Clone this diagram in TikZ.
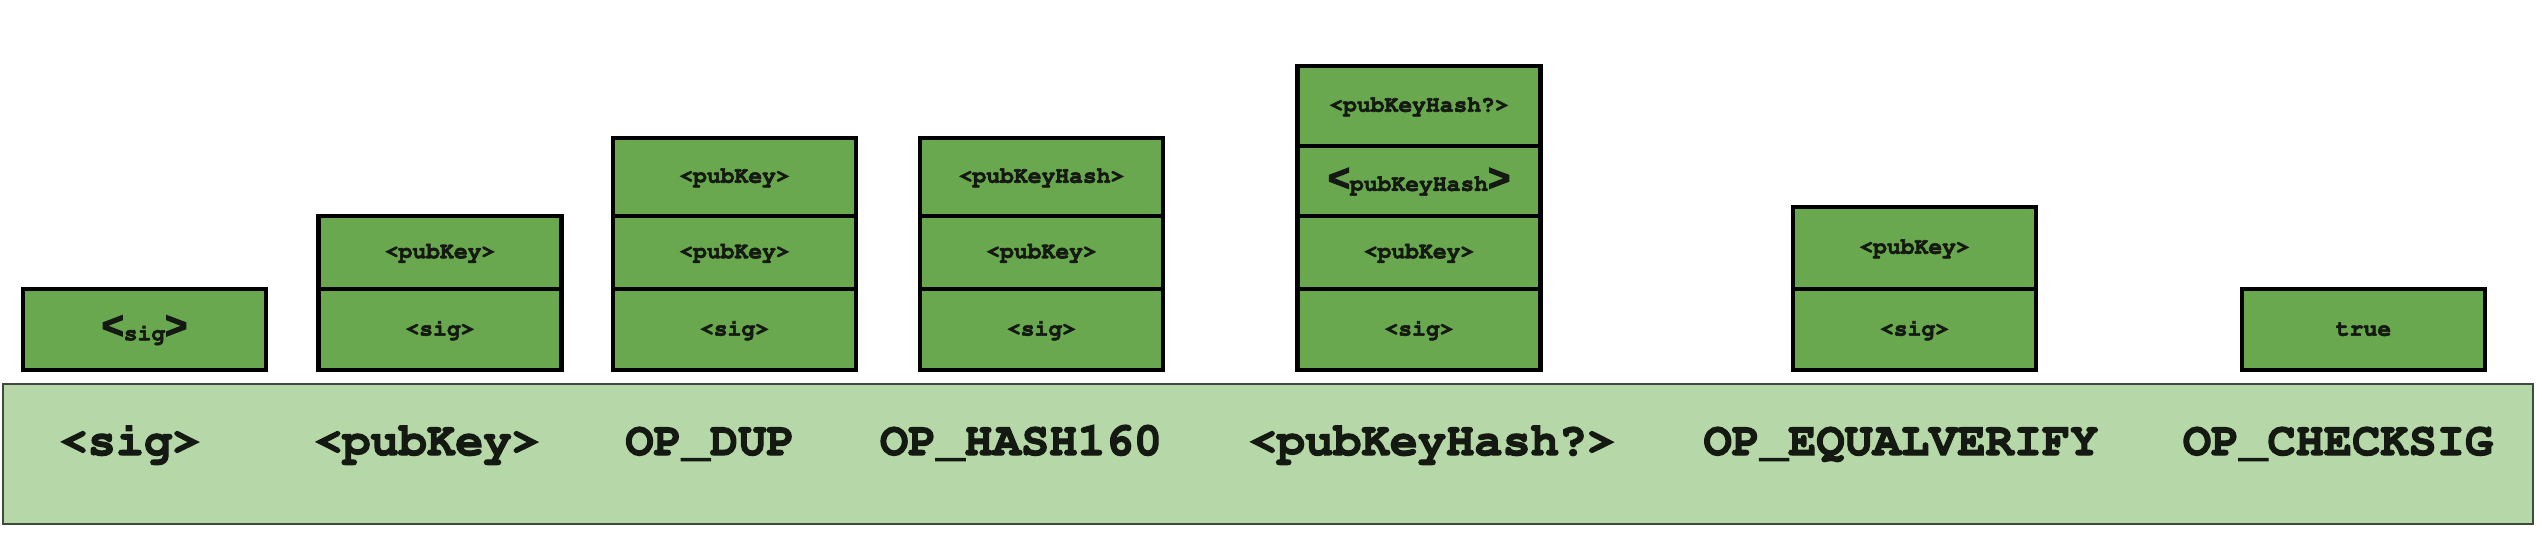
\documentclass[tikz,border=0pt]{standalone}
\usepackage{fontspec}
\setmonofont{Liberation Mono}
\newfontfamily\bsans{Liberation Sans}
\newcommand{\cour}{\fontencoding{T1}\fontfamily{pcr}\selectfont}
\newcommand{\heavy}[2]{\special{pdf:literal direct 2 Tr #1 w}#2\special{pdf:literal direct 0 Tr}}
\definecolor{cellgreen}{HTML}{6AA84F}
\definecolor{barfill}{HTML}{B6D7A8}
\definecolor{barline}{HTML}{3F4A3C}
\definecolor{txt}{HTML}{141A12}
\tikzset{
  cell/.style={draw=black, fill=cellgreen, line width=2.4pt, minimum width=121.5pt, inner sep=0pt, text=txt, font=\fontsize{11.5}{12}\cour\bfseries},
  bar/.style={draw=barline, fill=barfill, line width=0.9pt, minimum width=1265pt, minimum height=70pt, inner sep=0pt},
  oplabel/.style={text=txt, inner sep=0pt, anchor=base, font=\fontsize{23.5}{25}\cour\bfseries}
}
\newcommand{\mybigl}{{\bsans\bfseries\fontsize{19}{19}\selectfont\heavy{0.6}{<}}}
\newcommand{\mybigr}{{\bsans\bfseries\fontsize{19}{19}\selectfont\heavy{0.6}{>}}}
\newcommand{\sm}[1]{\heavy{0.3}{#1}}
\newcommand{\bg}[1]{\heavy{0.6}{#1}}
\begin{document}
\begin{tikzpicture}[x=0.5pt,y=-0.5pt]
\useasboundingbox[fill=white] (0,0) rectangle (2542,552);
% bar
\node[bar] (scriptbar) at (1268,454) {};
\node[oplabel] (l1) at (130,455) {\bg{<sig>}};
\node[oplabel] (l2) at (427,455) {\bg{<pubKey>}};
\node[oplabel] (l3) at (710,455) {\bg{OP\_DUP}};
\node[oplabel] (l4) at (1021,455) {\bg{OP\_HASH160}};
\node[oplabel] (l5) at (1432,455) {\bg{<pubKeyHash?>}};
\node[oplabel] (l6) at (1901,455) {\bg{OP\_EQUALVERIFY}};
\node[oplabel] (l7) at (2338,455) {\bg{OP\_CHECKSIG}};
% stack 1
\node[cell, minimum height=40.5pt] (s1a) at (144.5,329.5) {\mybigl\raisebox{-1pt}{\sm{sig}}\mybigr};
% stack 2
\node[cell, minimum height=40.5pt] (s2a) at (440,329.5) {\sm{<sig>}};
\node[cell, minimum height=36.5pt] (s2b) at (440,252.5) {\sm{<pubKey>}};
% stack 3
\node[cell, minimum height=40.5pt] (s3a) at (734.5,329.5) {\sm{<sig>}};
\node[cell, minimum height=36.5pt] (s3b) at (734.5,252.5) {\sm{<pubKey>}};
\node[cell, minimum height=39pt] (s3c) at (734.5,177) {\sm{<pubKey>}};
% stack 4
\node[cell, minimum height=40.5pt] (s4a) at (1041.5,329.5) {\sm{<sig>}};
\node[cell, minimum height=36.5pt] (s4b) at (1041.5,252.5) {\sm{<pubKey>}};
\node[cell, minimum height=39pt] (s4c) at (1041.5,177) {\sm{<pubKeyHash>}};
% stack 5
\node[cell, minimum height=40.5pt] (s5a) at (1419,329.5) {\sm{<sig>}};
\node[cell, minimum height=36.5pt] (s5b) at (1419,252.5) {\sm{<pubKey>}};
\node[cell, minimum height=35pt] (s5c) at (1419,181) {\mybigl\sm{pubKeyHash}\mybigr};
\node[cell, minimum height=40pt] (s5d) at (1419,106) {\sm{<pubKeyHash?>}};
% stack 6
\node[cell, minimum height=40.5pt] (s6a) at (1914.5,329.5) {\sm{<sig>}};
\node[cell, minimum height=41pt] (s6b) at (1914.5,248) {\sm{<pubKey>}};
% stack 7
\node[cell, minimum height=40.5pt] (s7a) at (2363.5,329.5) {\sm{true}};
\end{tikzpicture}
\end{document}
